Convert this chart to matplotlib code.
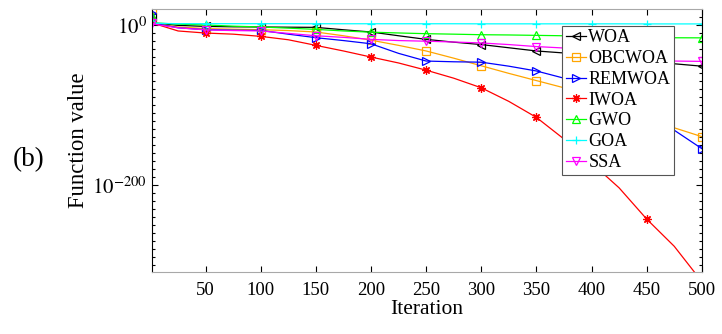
import numpy as np
import matplotlib
matplotlib.use('Agg')
import matplotlib.pyplot as plt
from matplotlib.ticker import FixedLocator, FuncFormatter, NullFormatter

plt.rcParams['font.family'] = ['Liberation Serif', 'DejaVu Serif']
plt.rcParams['mathtext.fontset'] = 'stix'

# iteration points
iters = [1, 5, 25, 50, 75, 100, 125, 150, 175, 200, 225, 250, 275, 300,
         325, 350, 375, 400, 425, 450, 475, 500]

# log10 of best function value for each algorithm
woa_exp = [10, 2.5, 0, -1.3, -1.8, -2, -2.3, -2.5, -5.5, -8.3, -13, -17.5,
           -21, -24, -28, -32, -34.5, -37, -40, -43, -48, -51]
obcwoa_exp = [20, 2, -2, -4, -4.8, -5.4, -6.5, -8.3, -13, -18.5, -25, -32,
              -41, -50.5, -60, -69, -78, -90, -102, -114, -128, -139]
remwoa_exp = [15, 2, -3, -5.4, -6, -6.3, -11, -15.4, -19, -23, -35, -44.6,
              -45.5, -46, -51, -57, -66, -82, -97, -113, -131, -154]
iwoa_exp = [6, 1.5, -7, -9.6, -11, -13.75, -18, -25, -32, -39.6, -47, -56,
            -66, -78, -95, -115, -142, -172, -203, -242, -276, -320]
gwo_exp = [12, 3, 1.5, 0.5, -1, -2, -3.5, -5, -7, -8.5, -9.5, -10.4,
           -11, -11.7, -12, -12.5, -13, -14, -15, -15.3, -15.5, -15.6]
goa_exp = [8, 2.5, 2.1, 2.1, 2.1, 2.1, 2.1, 2.0, 2.0, 2.0, 2.0, 2.0,
           2.0, 1.9, 1.9, 1.9, 1.9, 1.9, 1.9, 1.8, 1.8, 1.8]
ssa_exp = [3, 1, -3, -5.7, -6.5, -7, -10, -13, -15, -17.5, -19, -19.8,
           -20.8, -22, -24, -26.5, -28.3, -29.5, -34, -40, -44.6, -45]

names = ['WOA', 'OBCWOA', 'REMWOA', 'IWOA', 'GWO', 'GOA', 'SSA']
series = [woa_exp, obcwoa_exp, remwoa_exp, iwoa_exp, gwo_exp, goa_exp, ssa_exp]
colors = ['k', '#FFA500', '#0000FF', '#FF0000', '#00FF00', '#00FFFF', '#FF00FF']
markers = ['<', 's', '>', (8, 2, 0), '^', '+', 'v']

mark_idx = [i for i, it in enumerate(iters) if it == 1 or it % 50 == 0]

fig = plt.figure(figsize=(7.22, 3.34), dpi=100)
ax = fig.add_axes([0.210, 0.186, 0.762, 0.786])

x = np.array(iters)
for nm, s, c, m in zip(names, series, colors, markers):
    y = 10.0 ** np.array(s, dtype=float)
    ax.plot(x, y, color=c, lw=0.9, marker=m, markevery=mark_idx,
            markersize=6, markerfacecolor='none', markeredgecolor=c,
            markeredgewidth=0.9, label=nm)

ax.set_yscale('log')
ax.set_xlim(1, 500)
ax.set_ylim(1e-308, 1e20)

ax.xaxis.set_major_locator(FixedLocator(list(range(50, 501, 50))))
ax.yaxis.set_major_locator(FixedLocator([1e-200, 1e0]))
ax.yaxis.set_minor_locator(FixedLocator([10.0 ** k for k in range(-300, 20, 10)
                                         if k not in (0, -200)]))
ax.yaxis.set_major_formatter(FuncFormatter(lambda v, p: r'$10^{%d}$' % round(np.log10(v))))
ax.yaxis.set_minor_formatter(NullFormatter())

ax.tick_params(which='both', direction='in', top=True, right=True,
               labelsize=13.5, width=0.8)
ax.tick_params(which='major', length=4)
ax.tick_params(which='minor', length=2.5)
ax.tick_params(axis='x', pad=7)
ax.tick_params(axis='y', pad=3.5, labelsize=15)

for side in ['left', 'right']:
    ax.spines[side].set_color('k')
    ax.spines[side].set_linewidth(0.8)
for side in ['top', 'bottom']:
    ax.spines[side].set_color('#a8a8a8')
    ax.spines[side].set_linewidth(0.8)

ax.set_xlabel('Iteration', fontsize=15.5, labelpad=1)
ax.set_ylabel('Function value', fontsize=16.3, labelpad=2)

fig.text(0.040, 0.521, '(b)', fontsize=19.5, ha='center', va='center')

leg = ax.legend(loc='upper right', bbox_to_anchor=(0.9335, 0.923),
                bbox_transform=fig.transFigure, fontsize=13, frameon=True,
                fancybox=False, framealpha=1, edgecolor='#555555',
                borderpad=0.2, labelspacing=0.21, handlelength=1.1,
                handletextpad=0.15, borderaxespad=0, numpoints=1)
leg.get_frame().set_linewidth(0.8)

fig.savefig('out.png', dpi=100)
